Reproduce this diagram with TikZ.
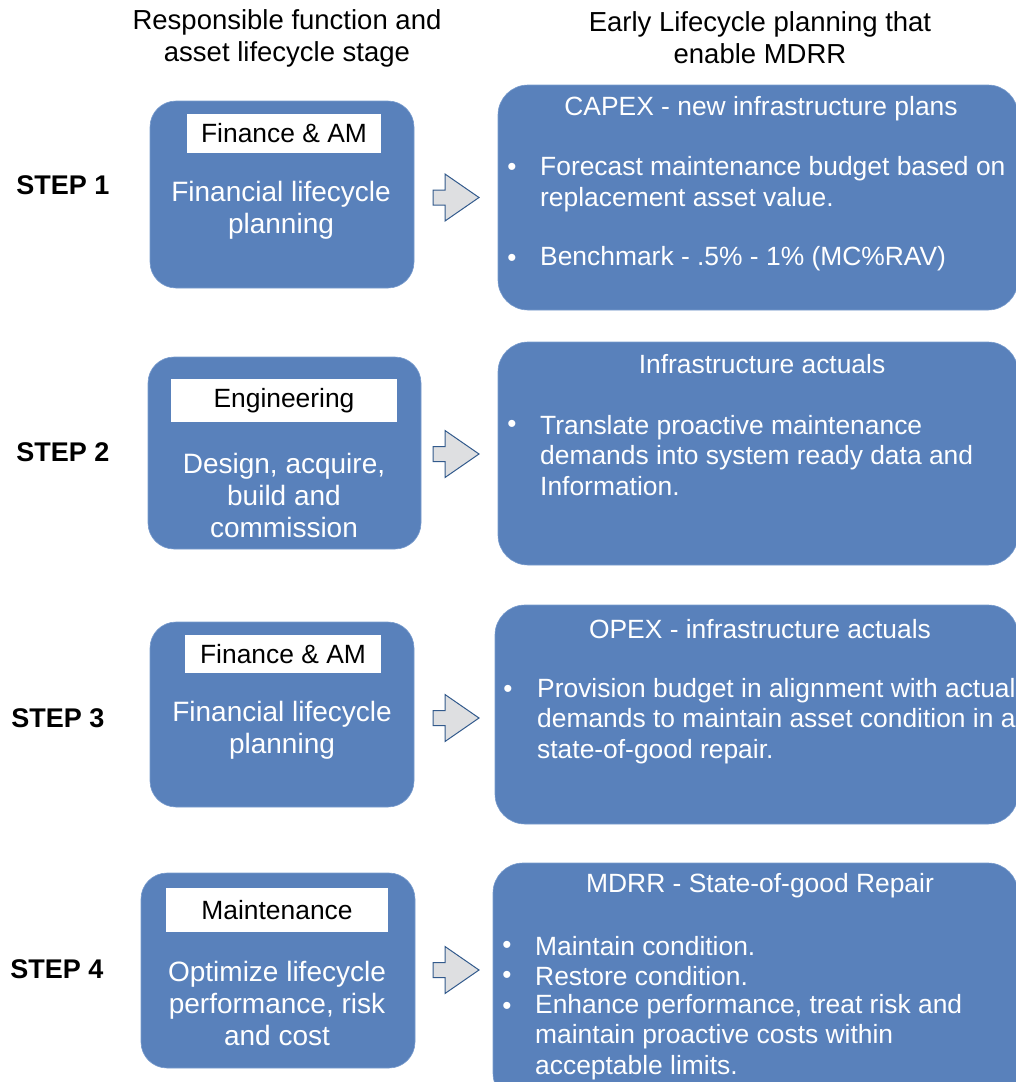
\documentclass[tikz,border=0pt]{standalone}
\usepackage{fontspec}
\setmainfont{Liberation Sans}
\definecolor{boxblue}{RGB}{89,129,187}
\definecolor{boxedge}{RGB}{120,155,205}
\definecolor{arrowfill}{RGB}{222,223,225}
\definecolor{arrowedge}{RGB}{50,90,140}
\begin{document}
\begin{tikzpicture}[x=1pt,y=-1pt,
  leftbox/.style={draw=boxedge, fill=boxblue, rounded corners=26pt, line width=0.6pt, inner sep=0pt},
  rightbox/.style={draw=boxedge, fill=boxblue, rounded corners=30pt, line width=0.6pt, inner sep=0pt},
  tagbox/.style={fill=white, inner sep=0pt, font=\fontsize{26.4}{30}\selectfont},
  stagetext/.style={text=white, align=center, font=\fontsize{28}{32}\selectfont},
  titletext/.style={text=white, font=\fontsize{26.4}{30}\selectfont},
  bullettext/.style={text=white, anchor=west, align=left, inner sep=0pt, font=\fontsize{26.4}{30.5}\selectfont},
  dot/.style={text=white, inner sep=0pt, font=\fontsize{26}{30}\selectfont},
  header/.style={align=center, font=\fontsize{27.5}{32}\selectfont},
  steplabel/.style={font=\bfseries\fontsize{27}{30}\selectfont},
  blockarrow/.style={fill=arrowfill, draw=arrowedge, line width=1pt, line join=miter}
]
\useasboundingbox (0,0) rectangle (1016,1082);
\clip (0,0) rectangle (1016,1082);

% column headings
\node[header] (hl) at (287,38) {Responsible function and\\asset lifecycle stage};
\node[header] (hr) at (760,38) {Early Lifecycle planning that\\enable MDRR};

% step labels
\node[steplabel] (s1) at (63,185) {STEP 1};
\node[steplabel] (s2) at (63,452) {STEP 2};
\node[steplabel] (s3) at (58,718) {STEP 3};
\node[steplabel] (s4) at (57,969) {STEP 4};

% left column: responsible function and lifecycle stage
\node[leftbox, minimum width=264pt, minimum height=187pt] (L1) at (282,194.5) {};
\node[tagbox, minimum width=194pt, minimum height=39pt] (T1) at (284,133.5) {Finance \& AM};
\node[stagetext] (B1) at (281,210.5) {Financial lifecycle\\planning};

\node[leftbox, minimum width=273pt, minimum height=192pt] (L2) at (284.5,453) {};
\node[tagbox, minimum width=226pt, minimum height=43pt] (T2) at (284,400.5) {Engineering};
\node[stagetext] (B2) at (284,495) {Design, acquire,\\build and\\commission};

\node[leftbox, minimum width=264pt, minimum height=185pt] (L3) at (282,714.5) {};
\node[tagbox, minimum width=196pt, minimum height=38pt] (T3) at (283,654) {Finance \& AM};
\node[stagetext] (B3) at (282,730.5) {Financial lifecycle\\planning};

\node[leftbox, minimum width=274pt, minimum height=195pt] (L4) at (278,970.5) {};
\node[tagbox, minimum width=222pt, minimum height=44pt] (T4) at (277,910) {Maintenance};
\node[stagetext] (B4) at (277,1003.5) {Optimize lifecycle\\performance, risk\\and cost};

% right column: early lifecycle planning
\node[rightbox, minimum width=520pt, minimum height=225pt] (R1) at (758,197.5) {};
\node[titletext] (P1) at (761,109) {CAPEX - new infrastructure plans};
\node[dot] (d11) at (512,169) {•};
\node[bullettext] (t11) at (540,184) {Forecast maintenance budget based on\\replacement asset value.};
\node[dot] (d12) at (512,260) {•};
\node[bullettext] (t12) at (540,259) {Benchmark - .5\% - 1\% (MC\%RAV)};

\node[rightbox, minimum width=520pt, minimum height=223pt] (R2) at (758,453.5) {};
\node[titletext] (P2) at (762,364) {Infrastructure actuals};
\node[dot] (d21) at (512,426) {•};
\node[bullettext] (t21) at (540,455.5) {Translate proactive maintenance\\demands into system ready data and\\Information.};

\node[rightbox, minimum width=523pt, minimum height=219pt] (R3) at (756.5,714.5) {};
\node[titletext] (P3) at (760,629) {OPEX - infrastructure actuals};
\node[dot] (d31) at (508,691) {•};
\node[bullettext] (t31) at (537,721) {Provision budget in alignment with actual\\demands to maintain asset condition in a\\state-of-good repair.};

\node[rightbox, minimum width=525pt, minimum height=240pt] (R4) at (755.5,983) {};
\node[titletext] (P4) at (760,886) {MDRR - State-of-good Repair};
\node[dot] (d41) at (507,947) {•};
\node[dot] (d42) at (507,977) {•};
\node[dot] (d43) at (507,1008) {•};
\node[bullettext] (t41) at (535,961) {Maintain condition.\\Restore condition.};
\node[bullettext] (t43) at (535,1037) {Enhance performance, treat risk and\\maintain proactive costs within\\acceptable limits.};

% block arrows between the columns
\foreach \i/\yc in {1/197.5, 2/454, 3/718, 4/970}{
  \coordinate (a\i) at (433,\yc);
  \draw[blockarrow] (a\i) ++(0,-7.5) -- ++(12,0) -- ++(0,-16) -- ++(34,23.5)
     -- ++(-34,23.5) -- ++(0,-16) -- ++(-12,0) -- cycle;
}
\end{tikzpicture}
\end{document}
